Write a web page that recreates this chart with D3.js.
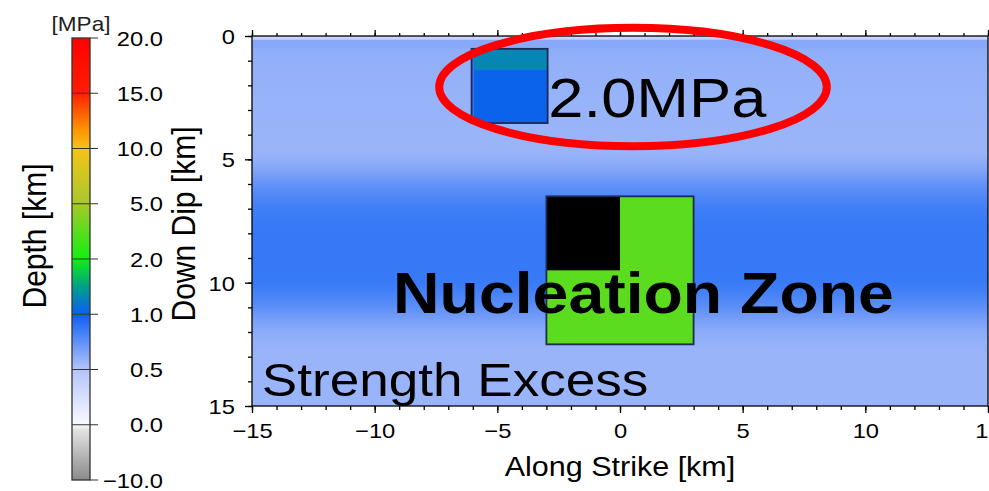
<!DOCTYPE html>
<html>
<head>
<meta charset="utf-8">
<script src="https://cdn.jsdelivr.net/npm/d3@7"></script>
<style>
  html, body { margin: 0; padding: 0; background: #fff; }
  svg { display: block; font-family: "Liberation Sans", Arial, Helvetica, sans-serif; }
</style>
</head>
<body>
<svg id="chart" width="989" height="491"></svg>
<script>
// ---- data -----------------------------------------------------------------
// Strength excess [MPa] of the background fault, sampled down dip [km]
const depthKm  = [0, 0.13, 0.17, 0.45, 0.55, 1.0, 2.6, 4.6, 5.0, 5.5, 6.0, 6.5, 7.0, 7.5, 8.0, 9.5, 10.0, 10.5, 11.0, 11.5, 12.0, 12.5, 13.0, 15.0];
const strength = [0.36, 0.36, 0.63, 0.63, 0.61, 0.6, 0.585, 0.577, 0.6, 0.66, 0.74, 0.8, 0.845, 0.865, 0.875, 0.875, 0.865, 0.82, 0.76, 0.68, 0.62, 0.59, 0.578, 0.578];

// Patches drawn on top of the background: strike range, dip range, value [MPa]
const patchStrike = [[-6.05, -2.95], [-6.05, -2.95], [-6.05, -5.95], [-3, 3], [-3, 0]];
const patchDip    = [[0.52, 1.38], [1.38, 3.53], [0.52, 3.53], [6.5, 12.5], [6.5, 9.5]];
const patchValue  = [1.3, 1.04, 0.9, 3.5, -99];   // below the palette range -> black

// Outlined areas: asperity and nucleation zone
const outlineStrike = [[-6.05, -2.95], [-3, 3]];
const outlineDip    = [[0.52, 3.53], [6.5, 12.5]];

// Colour palette stops [MPa]
const paletteValues = [-10, -0.0001, 0, 0.5, 1, 1.5, 2, 5, 10, 12, 15, 20];
const paletteColors = ["#8a8a8a", "#ececec", "#fafaff", "#b4c4fa", "#0c5ef5", "#00a088",
                       "#10f010", "#a8c82c", "#f5c418", "#ff8a00", "#ff1e00", "#ff0000"];
const belowColor = "#000000";

// Colour bar segment boundaries (drawn with equal heights)
const barTicks = [-10, 0, 0.5, 1, 2, 5, 10, 15, 20];

// Axis ticks
const strikeMajor = [-15, -10, -5, 0, 5, 10, 15];
const dipMajor = [0, 5, 10, 15];

// ---- setup -----------------------------------------------------------------
const svg = d3.select("#chart");
const SX = 1.13;   // horizontal stretch of the lettering
const font = "'Liberation Sans', Arial, Helvetica, sans-serif";

const x = d3.scaleLinear().domain([-15, 15]).range([252, 988]);
const y = d3.scaleLinear().domain([0, 15]).range([36, 406]);

const color = d3.scaleLinear().domain(paletteValues).range(paletteColors)
  .interpolate(d3.interpolateRgb).clamp(true);
const fillOf = v => (v < -10 ? belowColor : color(v));

function label(sel, px, py, txt, opts = {}) {
  const t = sel.append("text")
    .attr("transform", `translate(${px},${py}) scale(${SX},1)` + (opts.rotate ? ` rotate(${opts.rotate})` : ""))
    .attr("font-family", font)
    .attr("font-size", opts.size || 21)
    .attr("font-weight", opts.weight || "normal")
    .attr("text-anchor", opts.anchor || "start")
    .attr("fill", opts.fill || "#000")
    .text(txt);
  if (opts.dy) t.attr("dy", opts.dy);
  return t;
}

const defs = svg.append("defs");

// ---- background strength excess ------------------------------------------------
const bg = defs.append("linearGradient").attr("id", "bgGrad")
  .attr("gradientUnits", "userSpaceOnUse")
  .attr("x1", 0).attr("x2", 0).attr("y1", y(0)).attr("y2", y(15));
bg.selectAll("stop").data(depthKm).join("stop")
  .attr("offset", d => d / 15)
  .attr("stop-color", (d, i) => fillOf(strength[i]));

svg.append("rect")
  .attr("x", x(-15)).attr("y", y(0))
  .attr("width", x(15) - x(-15)).attr("height", y(15) - y(0))
  .attr("fill", "url(#bgGrad)");

// ---- patches ------------------------------------------------------------------
svg.selectAll("rect.patch").data(patchValue).join("rect").attr("class", "patch")
  .attr("x", (d, i) => x(patchStrike[i][0]))
  .attr("y", (d, i) => y(patchDip[i][0]))
  .attr("width", (d, i) => x(patchStrike[i][1]) - x(patchStrike[i][0]))
  .attr("height", (d, i) => y(patchDip[i][1]) - y(patchDip[i][0]))
  .attr("fill", d => fillOf(d));

svg.selectAll("rect.outline").data(outlineStrike).join("rect").attr("class", "outline")
  .attr("x", d => x(d[0]))
  .attr("y", (d, i) => y(outlineDip[i][0]))
  .attr("width", d => x(d[1]) - x(d[0]))
  .attr("height", (d, i) => y(outlineDip[i][1]) - y(outlineDip[i][0]))
  .attr("fill", "none")
  .attr("stroke", "#1c2a55")
  .attr("stroke-width", 1.8);

// ---- axes ------------------------------------------------------------------------
function styleAxis(g) {
  g.select(".domain").remove();
  g.selectAll("line").attr("stroke", "#000").attr("stroke-width", 1.3);
}
// minor ticks every 1 km
svg.append("g").attr("transform", `translate(0,${y(15)})`)
  .call(d3.axisBottom(x).tickValues(d3.range(-15, 16, 1)).tickSize(4).tickFormat(""))
  .call(styleAxis);
svg.append("g").attr("transform", `translate(0,${y(0)})`)
  .call(d3.axisTop(x).tickValues(d3.range(-15, 16, 1)).tickSize(3).tickFormat(""))
  .call(styleAxis);
svg.append("g").attr("transform", `translate(${x(-15)},0)`)
  .call(d3.axisLeft(y).tickValues(d3.range(0, 16, 1)).tickSize(4).tickFormat(""))
  .call(styleAxis);

// major ticks with labels
const xAxis = svg.append("g").attr("transform", `translate(0,${y(15)})`)
  .call(d3.axisBottom(x).tickValues(strikeMajor).tickSize(7).tickFormat(d3.format("d")))
  .call(styleAxis);
xAxis.selectAll("text")
  .attr("font-family", font).attr("font-size", 21).attr("fill", "#000")
  .attr("y", 0).attr("dy", null)
  .attr("transform", `translate(0,32) scale(${SX},1)`);

svg.append("g").attr("transform", `translate(0,${y(0)})`)
  .call(d3.axisTop(x).tickValues(strikeMajor).tickSize(6).tickFormat(""))
  .call(styleAxis);

const yAxis = svg.append("g").attr("transform", `translate(${x(-15)},0)`)
  .call(d3.axisLeft(y).tickValues(dipMajor).tickSize(7).tickFormat(d3.format("d")))
  .call(styleAxis);
yAxis.selectAll("text")
  .attr("font-family", font).attr("font-size", 21).attr("fill", "#000")
  .attr("x", 0).attr("dy", "0.36em")
  .attr("transform", `translate(-17,0) scale(${SX},1)`);

// frame
svg.append("rect")
  .attr("x", x(-15)).attr("y", y(0))
  .attr("width", x(15) - x(-15)).attr("height", y(15) - y(0))
  .attr("fill", "none").attr("stroke", "#000").attr("stroke-width", 1.3);

// axis titles
label(svg, x(0), 476, "Along Strike [km]", { size: 27, anchor: "middle" });
label(svg, 195, 224, "Down Dip [km]", { size: 30, anchor: "middle", rotate: -90 });
label(svg, 46, 236, "Depth [km]", { size: 30, anchor: "middle", rotate: -90 });

// ---- colour bar ----------------------------------------------------------------
const barX = 72, barW = 18;
const by = d3.scaleLinear().domain([0, barTicks.length - 1]).range([480, 38]);
const segs = d3.range(barTicks.length - 1);

segs.forEach(i => {
  const g = defs.append("linearGradient").attr("id", "seg" + i)
    .attr("x1", 0).attr("x2", 0).attr("y1", 1).attr("y2", 0);
  const lo = barTicks[i], hi = barTicks[i + 1];
  d3.range(0, 1.0001, 0.1).forEach(t => {
    const v = lo + (hi - lo) * t;
    g.append("stop").attr("offset", t)
      .attr("stop-color", color(Math.min(hi - 1e-6, Math.max(lo + 1e-6, v))));
  });
});

svg.selectAll("rect.seg").data(segs).join("rect").attr("class", "seg")
  .attr("x", barX).attr("width", barW)
  .attr("y", i => by(i + 1)).attr("height", i => by(i) - by(i + 1))
  .attr("fill", i => `url(#seg${i})`);

svg.selectAll("line.btick").data(barTicks).join("line").attr("class", "btick")
  .attr("x1", (d, i) => (i === 0 || i === barTicks.length - 1) ? barX + barW : barX)
  .attr("x2", barX + barW + 8)
  .attr("y1", (d, i) => by(i)).attr("y2", (d, i) => by(i))
  .attr("stroke", "#333").attr("stroke-width", 1);

svg.append("rect").attr("x", barX).attr("y", by(barTicks.length - 1))
  .attr("width", barW).attr("height", by(0) - by(barTicks.length - 1))
  .attr("fill", "none").attr("stroke", "#333").attr("stroke-width", 1.3);

const fmt1 = d3.format(".1f");
barTicks.forEach((v, i) => {
  label(svg, 163, by(i), fmt1(v), { size: 21, anchor: "end", dy: "0.36em" });
});
label(svg, 81, 31, "[MPa]", { size: 20, anchor: "middle", fill: "#222" });

// ---- annotations ------------------------------------------------------------------
label(svg, x(-14.6), 396, "Strength Excess", { size: 47 });
label(svg, x(-9.25), 313, "Nucleation Zone", { size: 57, weight: "bold" });
label(svg, x(-2.92), 117, "2.0MPa", { size: 56 });

// highlight ring around the asperity
svg.append("ellipse")
  .attr("cx", x(0.53)).attr("cy", y(2.07))
  .attr("rx", x(7.9) - x(0)).attr("ry", y(2.4) - y(0))
  .attr("fill", "none").attr("stroke", "#ff0000").attr("stroke-width", 8);
</script>
</body>
</html>
